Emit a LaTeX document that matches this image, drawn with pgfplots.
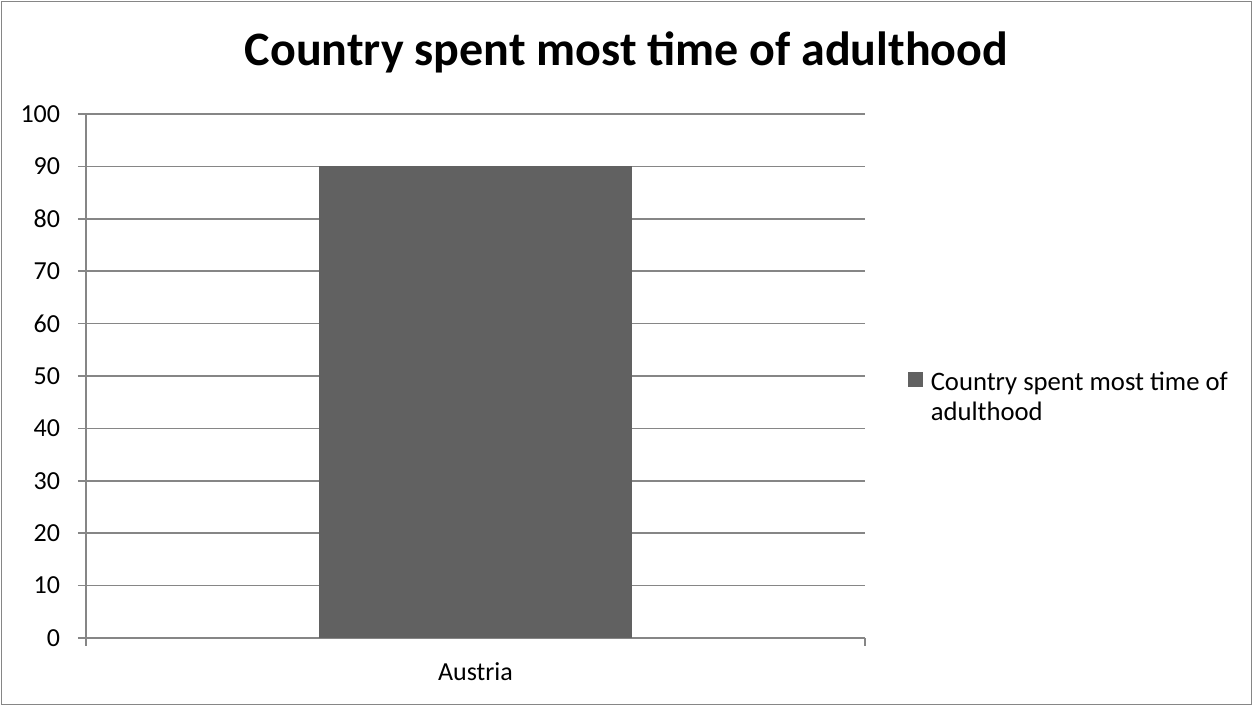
\documentclass[border=0pt]{standalone}
\usepackage{fontspec}
\setmainfont{Carlito}
\usepackage{pgfplots}
\pgfplotsset{compat=1.18}
\definecolor{barc}{RGB}{97,97,97}
\definecolor{axc}{RGB}{134,134,134}
\begin{document}
\begin{tikzpicture}
\path[use as bounding box] (0,0) rectangle (939.75pt,529.5pt);
\draw[axc, line width=1.2pt] (1.1pt,1.1pt) rectangle (938.65pt,528.4pt);
\begin{axis}[
 at={(64.5pt,51pt)}, anchor=south west,
 scale only axis, width=584.25pt, height=393pt,
 xmin=-0.5, xmax=0.5, ymin=0, ymax=100,
 axis lines*=left,
 axis line style={axc, line width=1.1pt},
 ytick distance=10, ymajorgrids, grid style={axc, line width=1.1pt},
 tick style={axc, line width=1.1pt},
 tick align=outside, major tick length=6pt,
 xtick={-0.5,0.5}, xticklabels={},
 extra x ticks={0}, extra x tick labels={Austria},
 extra x tick style={major tick length=0pt, xticklabel style={anchor=base, yshift=-32pt}},
 /pgf/number format/assume math mode=true,
 every tick label/.append style={font=\fontsize{19.5}{24}\selectfont, text=black},
 yticklabel style={anchor=east, inner sep=0pt, xshift=-13.25pt},
 legend style={draw=none, fill=none, at={(1.055,0.5135)}, anchor=north west, inner sep=0pt,
   font=\fontsize{20}{22.5}\selectfont, nodes={align=left}, column sep=3.75pt},
 legend cell align=left,
 legend image code/.code={\fill[barc] (0pt,7.25pt) rectangle (11.25pt,18.5pt);},
]
\addplot[ybar, bar width=0.402, fill=barc, draw=none] coordinates {(0,90)};
\addlegendentry{Country spent most time of\\adulthood}
\end{axis}
\node[anchor=base, font=\fontsize{36}{43}\selectfont\bfseries] at (469.875pt,480pt) {Country spent most time of adulthood};
\end{tikzpicture}
\end{document}
